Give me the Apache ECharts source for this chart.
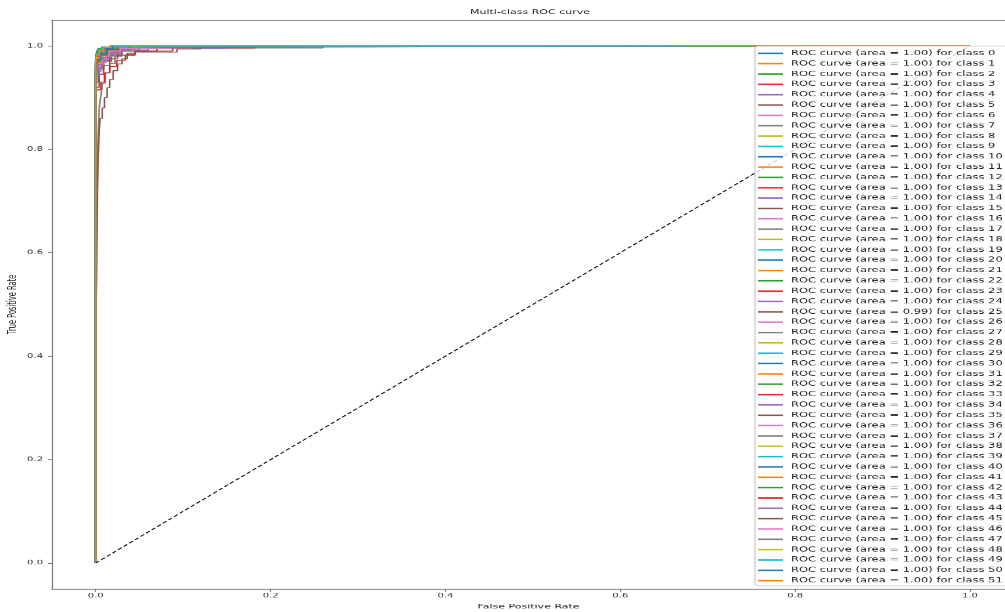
<!DOCTYPE html>
<html>
<head>
<meta charset="utf-8">
<title>Multi-class ROC curve</title>
<script src="https://cdn.jsdelivr.net/npm/echarts@6/dist/echarts.min.js"></script>
<style>
  html, body { margin: 0; padding: 0; overflow: hidden; background: #fff; }
  #wrap { width: 1005px; height: 612px; overflow: hidden; }
  /* the figure is laid out on a taller canvas and squashed vertically,
     which gives the wide, flat lettering of the exported plot */
  #chart { width: 1005px; height: 1055px; transform: scaleY(0.58); transform-origin: 0 0; }
</style>
</head>
<body>
<div id="wrap"><div id="chart"></div></div>
<script>
// ---- data -------------------------------------------------------------
const classIds = [
  0, 1, 2, 3, 4, 5, 6, 7, 8, 9, 10, 11, 12, 13, 14, 15, 16, 17, 18, 19,
  20, 21, 22, 23, 24, 25, 26, 27, 28, 29, 30, 31, 32, 33, 34, 35, 36, 37, 38, 39,
  40, 41, 42, 43, 44, 45, 46, 47, 48, 49, 50, 51
];

const areas = [
  '1.00', '1.00', '1.00', '1.00', '1.00', '1.00', '1.00', '1.00', '1.00', '1.00',
  '1.00', '1.00', '1.00', '1.00', '1.00', '1.00', '1.00', '1.00', '1.00', '1.00',
  '1.00', '1.00', '1.00', '1.00', '1.00', '0.99', '1.00', '1.00', '1.00', '1.00',
  '1.00', '1.00', '1.00', '1.00', '1.00', '1.00', '1.00', '1.00', '1.00', '1.00',
  '1.00', '1.00', '1.00', '1.00', '1.00', '1.00', '1.00', '1.00', '1.00', '1.00',
  '1.00', '1.00'
];

// per-class ROC staircase: each [fpr, tpr] is the end of a run at that tpr level
const rocPoints = [
  [[0,0],[0.002,0.962],[0.005,0.981],[0.010,0.992],[0.018,0.997],[1,1]],
  [[0,0],[0.003,0.955],[0.007,0.976],[0.013,0.988],[0.024,0.996],[1,1]],
  [[0,0],[0.001,0.972],[0.004,0.986],[0.009,0.994],[0.015,0.998],[1,1]],
  [[0,0],[0.003,0.936],[0.008,0.958],[0.016,0.972],[0.028,0.984],[0.045,0.992],[1,1]],
  [[0,0],[0.002,0.948],[0.006,0.968],[0.013,0.982],[0.025,0.990],[0.040,0.995],[1,1]],
  [[0,0],[0.003,0.930],[0.009,0.955],[0.018,0.970],[0.030,0.982],[0.050,0.990],[1,1]],
  [[0,0],[0.002,0.925],[0.006,0.950],[0.012,0.968],[0.022,0.980],[0.035,0.990],[0.062,0.996],[1,1]],
  [[0,0],[0,0.45],[0.0005,0.55],[0.001,0.64],[0.002,0.72],[0.003,0.79],[0.004,0.836],[0.006,0.88],[0.008,0.905],[0.011,0.928],[0.016,0.948],[0.022,0.966],[0.030,0.980],[0.050,0.990],[0.260,0.996],[1,1]],
  [[0,0],[0.001,0.965],[0.004,0.982],[0.010,0.990],[0.020,0.996],[1,1]],
  [[0,0],[0.001,0.958],[0.005,0.978],[0.011,0.990],[0.019,0.997],[1,1]],
  [[0,0],[0.002,0.950],[0.006,0.972],[0.012,0.986],[0.020,0.995],[1,1]],
  [[0,0],[0.001,0.968],[0.003,0.984],[0.008,0.993],[0.014,0.998],[1,1]],
  [[0,0],[0.002,0.944],[0.007,0.968],[0.014,0.982],[0.026,0.992],[1,1]],
  [[0,0],[0.006,0.915],[0.010,0.930],[0.016,0.948],[0.024,0.960],[0.034,0.972],[0.045,0.982],[0.070,0.990],[0.182,0.996],[1,1]],
  [[0,0],[0.002,0.945],[0.008,0.965],[0.016,0.978],[0.030,0.986],[0.060,0.992],[0.148,0.995],[1,1]],
  [[0,0],[0.002,0.960],[0.006,0.978],[0.014,0.990],[0.024,0.996],[1,1]],
  [[0,0],[0.003,0.935],[0.008,0.958],[0.016,0.974],[0.028,0.985],[0.045,0.992],[0.110,0.995],[1,1]],
  [[0,0],[0.001,0.900],[0.004,0.930],[0.009,0.955],[0.016,0.972],[0.026,0.984],[0.040,0.992],[1,1]],
  [[0,0],[0.002,0.962],[0.006,0.980],[0.012,0.990],[0.022,0.996],[1,1]],
  [[0,0],[0.001,0.955],[0.004,0.975],[0.009,0.988],[0.017,0.996],[1,1]],
  [[0,0],[0.001,0.970],[0.003,0.985],[0.008,0.994],[0.013,0.998],[1,1]],
  [[0,0],[0.003,0.950],[0.007,0.972],[0.014,0.986],[0.024,0.994],[1,1]],
  [[0,0],[0.001,0.966],[0.005,0.982],[0.011,0.992],[0.019,0.997],[1,1]],
  [[0,0],[0.002,0.942],[0.007,0.964],[0.015,0.978],[0.026,0.988],[0.038,0.995],[1,1]],
  [[0,0],[0.001,0.960],[0.004,0.978],[0.010,0.990],[0.018,0.996],[1,1]],
  [[0,0],[0,0.30],[0.001,0.45],[0.0015,0.55],[0.002,0.64],[0.003,0.72],[0.004,0.79],[0.005,0.836],[0.0075,0.86],[0.010,0.88],[0.013,0.90],[0.016,0.919],[0.020,0.935],[0.025,0.952],[0.030,0.965],[0.036,0.975],[0.045,0.984],[0.093,0.988],[0.120,0.994],[1,1]],
  [[0,0],[0.002,0.952],[0.006,0.972],[0.013,0.986],[0.022,0.994],[1,1]],
  [[0,0],[0.001,0.962],[0.005,0.980],[0.010,0.990],[0.020,0.996],[1,1]],
  [[0,0],[0.003,0.940],[0.008,0.962],[0.016,0.978],[0.028,0.990],[1,1]],
  [[0,0],[0.002,0.966],[0.005,0.982],[0.011,0.992],[0.020,0.997],[1,1]],
  [[0,0],[0.001,0.958],[0.004,0.978],[0.009,0.990],[0.016,0.996],[1,1]],
  [[0,0],[0.002,0.945],[0.006,0.968],[0.012,0.984],[0.022,0.993],[0.034,0.997],[1,1]],
  [[0,0],[0.001,0.975],[0.003,0.988],[0.007,0.995],[0.012,0.998],[1,1]],
  [[0,0],[0.002,0.952],[0.006,0.972],[0.012,0.985],[0.022,0.993],[1,1]],
  [[0,0],[0.002,0.935],[0.007,0.958],[0.014,0.975],[0.024,0.986],[0.040,0.993],[1,1]],
  [[0,0],[0.004,0.920],[0.009,0.945],[0.016,0.962],[0.025,0.975],[0.036,0.982],[0.045,0.986],[0.088,0.990],[1,1]],
  [[0,0],[0.001,0.964],[0.004,0.980],[0.009,0.991],[0.017,0.997],[1,1]],
  [[0,0],[0.002,0.948],[0.007,0.970],[0.014,0.984],[0.025,0.993],[1,1]],
  [[0,0],[0.001,0.958],[0.005,0.976],[0.011,0.988],[0.020,0.995],[1,1]],
  [[0,0],[0.002,0.950],[0.006,0.972],[0.013,0.986],[0.023,0.994],[1,1]],
  [[0,0],[0.001,0.968],[0.004,0.984],[0.009,0.993],[0.015,0.998],[1,1]],
  [[0,0],[0.002,0.958],[0.005,0.978],[0.011,0.990],[0.020,0.996],[1,1]],
  [[0,0],[0.002,0.946],[0.006,0.970],[0.013,0.985],[0.024,0.994],[1,1]],
  [[0,0],[0.001,0.962],[0.005,0.980],[0.010,0.991],[0.018,0.997],[1,1]],
  [[0,0],[0.003,0.940],[0.008,0.963],[0.016,0.978],[0.030,0.988],[0.050,0.994],[1,1]],
  [[0,0],[0.002,0.950],[0.007,0.970],[0.014,0.984],[0.026,0.993],[1,1]],
  [[0,0],[0.002,0.944],[0.007,0.965],[0.015,0.980],[0.028,0.990],[0.050,0.995],[1,1]],
  [[0,0],[0.001,0.955],[0.005,0.975],[0.011,0.988],[0.021,0.995],[1,1]],
  [[0,0],[0.002,0.960],[0.006,0.978],[0.012,0.990],[0.021,0.996],[1,1]],
  [[0,0],[0.001,0.970],[0.004,0.985],[0.008,0.994],[0.014,0.998],[1,1]],
  [[0,0],[0.002,0.952],[0.006,0.974],[0.012,0.988],[0.020,0.995],[1,1]],
  [[0,0],[0.001,0.966],[0.004,0.982],[0.009,0.992],[0.016,0.997],[1,1]]
];

// chance diagonal
const chanceLine = [[0, 0], [1, 1]];

const xTicks = [0, 0.2, 0.4, 0.6, 0.8, 1.0];
const yTicks = [0, 0.2, 0.4, 0.6, 0.8, 1.0];

// ---- styling ----------------------------------------------------------
const palette = ['#1f77b4', '#ff7f0e', '#2ca02c', '#d62728', '#9467bd',
                 '#8c564b', '#e377c2', '#7f7f7f', '#bcbd22', '#17becf'];
const SY = 0.58;               // vertical squash applied by CSS
const v = px => px / SY;       // screen-space vertical pixels -> canvas pixels
const FONT = 'DejaVu Sans';
const spine = '#777';

const labelNames = rocPoints.map((_, i) =>
  'ROC curve (area = ' + areas[i] + ') for class ' + classIds[i]);

const series = rocPoints.map((pts, i) => ({
  type: 'line',
  name: labelNames[i],
  data: pts,
  step: 'start',
  symbol: 'none',
  showSymbol: false,
  silent: true,
  z: 2,
  lineStyle: { width: 1.6, color: palette[i % 10] },
  itemStyle: { color: palette[i % 10] }
}));

series.push({
  type: 'line',
  name: 'chance',
  data: chanceLine,
  symbol: 'none',
  silent: true,
  z: 3,
  lineStyle: { width: 1.5, color: '#111', type: [5, 3] },
  itemStyle: { color: '#111' }
});

const tickFmt = val => val.toFixed(1);

const chart = echarts.init(document.getElementById('chart'), null, { renderer: 'canvas' });
chart.setOption({
  animation: false,
  backgroundColor: '#fff',
  title: {
    text: 'Multi-class ROC curve',
    left: 470,
    top: v(9),
    padding: 0,
    textStyle: { fontFamily: FONT, fontSize: 11, fontWeight: 'normal', color: '#222' }
  },
  grid: {
    left: 52, right: 0, top: v(20), bottom: v(23),
    containLabel: false,
    outerBoundsMode: 'none'
  },
  xAxis: [{
    type: 'value',
    min: -0.05, max: 1.04,
    position: 'bottom',
    name: 'False Positive Rate',
    nameLocation: 'middle',
    nameGap: 25,
    nameTextStyle: { fontFamily: FONT, fontSize: 11, color: '#222' },
    axisLine: { show: true, onZero: false, lineStyle: { color: spine, width: 1.7 } },
    axisTick: { show: true, length: 5, customValues: xTicks, lineStyle: { color: spine, width: 1.2 } },
    axisLabel: { customValues: xTicks, formatter: tickFmt, margin: 7,
                 fontFamily: FONT, fontSize: 10, color: '#333' },
    splitLine: { show: false }
  }, {
    type: 'value',
    min: -0.05, max: 1.04,
    position: 'top',
    axisLine: { show: true, onZero: false, lineStyle: { color: spine, width: 1.7 } },
    axisTick: { show: false },
    axisLabel: { show: false },
    splitLine: { show: false }
  }],
  yAxis: {
    type: 'value',
    min: -0.05, max: 1.05,
    name: 'True Positive Rate',
    nameLocation: 'middle',
    nameRotate: 90,
    nameGap: 33,
    nameMoveOverlap: false,
    nameTextStyle: { fontFamily: FONT, fontSize: 11.5, color: '#222' },
    axisLine: { show: true, onZero: false, lineStyle: { color: spine, width: 1.2 } },
    axisTick: { show: true, length: 4, customValues: yTicks, lineStyle: { color: spine, width: 1.2 } },
    axisLabel: { customValues: yTicks, formatter: tickFmt, margin: 9,
                 fontFamily: FONT, fontSize: 10, color: '#333' },
    splitLine: { show: false }
  },
  legend: {
    data: labelNames,
    orient: 'vertical',
    left: 755,
    top: v(46),
    padding: [3.7, 40, 0, 3],
    icon: 'rect',
    itemWidth: 25,
    itemHeight: 2.6,
    itemGap: 0,
    selectedMode: false,
    backgroundColor: 'rgba(255,255,255,0.8)',
    borderColor: '#cccccc',
    borderWidth: 1.3,
    borderRadius: 4,
    textStyle: { fontFamily: FONT, fontSize: 11.5, color: '#222',
                 lineHeight: v(10.34), padding: [0, 0, 0, 3] },
    z: 10
  },
  series: series
});
</script>
</body>
</html>
